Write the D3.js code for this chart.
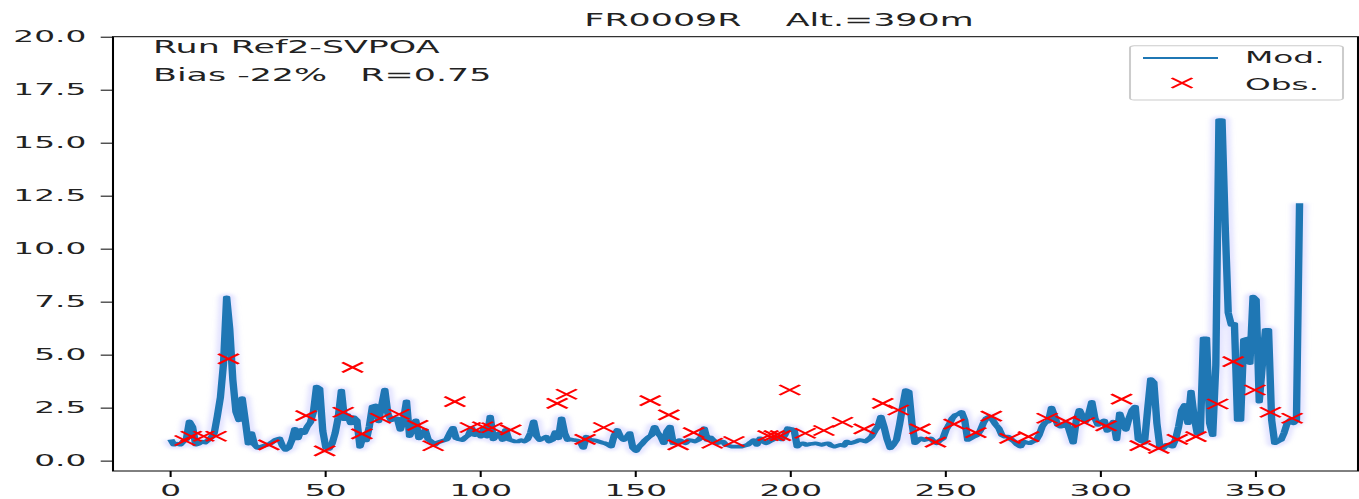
<!DOCTYPE html>
<html>
<head>
<meta charset="utf-8">
<script src="https://cdn.jsdelivr.net/npm/d3@7"></script>
<style>
    body { margin: 0; background: #fff; }
    text { font-family: "DejaVu Sans", sans-serif; }
</style>
</head>
<body>
<svg id="chart" width="1359" height="499"></svg>
<script>
// Data used to draw the chart:
//------------------------------------
var modelVals = [
    1.0, 0.75, 0.8, 0.75, 0.9, 1.0, 1.85, 1.6, 0.75, 0.8,
    0.9, 0.85, 0.97, 1.1, 1.3, 2.1, 3.0, 4.6, 7.7, 6.2,
    3.8, 2.3, 1.9, 2.95, 1.9, 0.8, 1.3, 0.75, 0.6, 0.65,
    0.7, 0.75, 0.8, 0.9, 1.0, 1.05, 0.7, 0.5, 0.6, 0.95,
    1.5, 1.05, 1.45, 1.3, 1.6, 1.8, 2.3, 3.5, 3.4, 1.4,
    0.6, 0.55, 0.8, 1.3, 2.05, 3.3, 1.95, 2.15, 1.75, 2.05,
    1.9, 0.65, 1.15, 0.95, 1.6, 2.55, 2.6, 1.85, 2.6, 3.35,
    2.2, 1.9, 2.0, 2.0, 1.45, 1.9, 2.8, 1.15, 1.5, 1.9,
    1.05, 1.2, 1.45, 1.0, 0.9, 0.74, 0.85, 0.9, 0.95, 1.0,
    1.3, 1.55, 1.05, 1.0, 0.97, 1.1, 1.2, 1.55, 1.2, 1.35,
    1.13, 1.5, 1.13, 2.08, 1.0, 1.2, 1.3, 0.97, 1.45, 1.0,
    0.95, 0.9, 0.9, 0.97, 0.9, 1.0, 1.3, 1.85, 1.15, 0.97,
    1.05, 1.13, 0.9, 0.97, 1.35, 1.05, 2.0, 1.3, 0.97, 1.0,
    0.97, 0.95, 0.9, 0.6, 1.13, 1.0, 0.97, 0.95, 0.9, 0.85,
    0.82, 0.75, 0.66, 1.2, 1.45, 1.13, 0.97, 1.1, 1.3, 0.6,
    0.45, 0.66, 0.8, 0.97, 1.1, 1.2, 1.6, 1.3, 1.13, 0.82,
    1.4, 1.6, 0.82, 0.85, 0.97, 0.9, 0.82, 0.97, 0.95, 0.9,
    0.97, 1.1, 1.53, 0.97, 1.1, 0.95, 0.82, 0.85, 0.9, 0.74,
    0.7, 0.66, 0.66, 0.66, 0.66, 0.7, 0.74, 0.85, 0.97, 0.74,
    1.05, 0.9, 0.82, 0.9, 0.97, 1.13, 1.05, 1.0, 1.2, 1.53,
    1.5, 1.45, 0.66, 0.8, 0.82, 0.74, 0.78, 0.8, 0.82, 0.78,
    0.74, 0.8, 0.82, 0.7, 0.66, 0.7, 0.74, 0.7, 0.9, 0.82,
    0.85, 0.9, 0.97, 0.95, 0.9, 1.0, 1.13, 1.4, 1.6, 2.08,
    1.6, 1.0, 0.58, 0.75, 0.97, 1.7, 2.55, 3.33, 3.26, 1.76,
    0.82, 0.95, 1.05, 0.97, 1.0, 1.05, 0.9, 0.82, 0.95, 1.05,
    1.45, 1.7, 2.0, 2.15, 2.2, 2.3, 1.92, 0.97, 1.05, 1.13,
    1.2, 1.4, 1.76, 2.0, 2.08, 1.92, 1.7, 1.53, 1.2, 1.13,
    1.13, 1.0, 0.9, 0.75, 0.66, 0.9, 0.85, 0.82, 0.9, 0.95,
    1.2, 1.6, 1.8, 1.84, 2.5, 2.1, 1.68, 1.6, 1.65, 1.76,
    1.3, 0.85, 1.9, 2.4, 2.1, 1.84, 2.2, 2.78, 2.0, 1.68,
    1.8, 1.9, 1.4, 1.6, 1.84, 1.0, 2.23, 1.8, 1.45, 2.0,
    2.39, 2.55, 1.0, 0.9, 0.85, 2.39, 3.85, 3.7, 1.76, 0.6,
    0.58, 0.74, 0.7, 0.66, 1.0, 1.6, 2.39, 2.63, 1.76, 3.26,
    2.08, 1.28, 1.3, 5.77, 5.77, 1.76, 1.2, 4.5, 16.07, 16.07,
    11.2, 6.97, 6.4, 6.45, 1.92, 1.92, 5.7, 5.75, 4.6, 7.74,
    7.6, 2.78, 4.5, 6.17, 6.17, 1.92, 0.82, 0.9, 0.97, 1.3,
    1.76, 1.92, 1.76, 1.9, 12.14
];

var obsDays = [5, 7, 11, 15, 19, 32, 44, 50, 56, 59, 62, 68, 74, 80, 85, 92,
    97, 101, 104, 110, 125, 128, 134, 140, 155, 161, 164, 169, 175, 182,
    193, 195, 197, 200, 205, 211, 217, 224, 230, 235, 242, 247, 253, 260,
    265, 271, 277, 283, 289, 295, 302, 307, 313, 319, 325, 331, 338, 343,
    350, 355, 362];
var obsVals = [0.95, 1.15, 1.15, 1.15, 4.8, 0.74, 2.12, 0.46, 2.28, 4.4, 1.26, 2.0, 2.19, 1.66, 0.7, 2.78,
    1.56, 1.6, 1.55, 1.45, 2.7, 3.13, 1.0, 1.56, 2.83, 2.16, 0.74, 1.32, 0.82, 0.9,
    1.18, 1.18, 1.18, 3.33, 1.29, 1.42, 1.81, 1.5, 2.7, 2.39, 1.5, 0.87, 1.72, 1.32,
    2.1, 1.05, 1.13, 2.0, 1.86, 1.8, 1.64, 2.9, 0.71, 0.58, 1.0, 1.13, 2.67, 4.67,
    3.33, 2.28, 2.0];

var yTicks = [0, 2.5, 5, 7.5, 10, 12.5, 15, 17.5, 20];
var xTicks = [0, 50, 100, 150, 200, 250, 300, 350];

var titleText = "FR0009R    Alt.=390m";
var runText = "Run Ref2-SVPOA";
var statText = "Bias -22%   R=0.75";
var legendNames = ["Mod.", "Obs."];

//------------------------------------
// the picture is a horizontally stretched matplotlib figure,
// so everything is drawn in a narrow space and scaled in x
var sx = 2.05;
var svg = d3.select("#chart");

// soft blur for the halo round the model line
svg.append("defs").append("filter")
    .attr("id", "soft")
    .attr("x", "-5%").attr("y", "-5%").attr("width", "110%").attr("height", "110%")
    .append("feGaussianBlur").attr("stdDeviation", "1.2 1.5");

var g = svg.append("g").attr("transform", "scale(" + sx + ",1)");

var plotLeft = 113 / sx, plotRight = 1358 / sx, plotTop = 36.7, plotBottom = 471;

var x = d3.scaleLinear().domain([-18.25, 383.25]).range([plotLeft, plotRight]);
var y = d3.scaleLinear().domain([-0.49, 20]).range([plotBottom, plotTop]);

// axes
var yAxis = g.append("g")
    .attr("transform", "translate(" + plotLeft + ",0)")
    .call(d3.axisLeft(y).tickValues(yTicks).tickFormat(d3.format(".1f"))
        .tickSize(6).tickPadding(7).tickSizeOuter(0));
var xAxis = g.append("g")
    .attr("transform", "translate(0," + plotBottom + ")")
    .call(d3.axisBottom(x).tickValues(xTicks).tickFormat(d3.format("d"))
        .tickSize(6).tickPadding(8).tickSizeOuter(0));
[yAxis, xAxis].forEach(function (a) {
    a.select(".domain").remove();
    a.selectAll("text").style("font-size", "16px").attr("fill", "#222");
    a.selectAll("line").attr("stroke", "#000");
});

// model line with its soft halo
var line = d3.line()
    .x(function (d, i) { return x(i + 0.4); })
    .y(function (d) { return y(d); });

g.append("path")
    .datum(modelVals)
    .attr("d", line)
    .attr("fill", "none")
    .attr("stroke", "#c4c4ff")
    .attr("stroke-opacity", 0.45)
    .attr("stroke-width", 8)
    .attr("stroke-linejoin", "round")
    .attr("filter", "url(#soft)");

g.append("path")
    .datum(modelVals)
    .attr("d", line)
    .attr("fill", "none")
    .attr("stroke", "#1f77b4")
    .attr("stroke-width", 3.6)
    .attr("stroke-linejoin", "round");

// observations as red crosses
var cross = function (cx, cy, r) {
    return "M" + (cx - r) + "," + (cy - r) + "L" + (cx + r) + "," + (cy + r) +
        "M" + (cx - r) + "," + (cy + r) + "L" + (cx + r) + "," + (cy - r);
};
g.selectAll(".obs")
    .data(obsDays)
    .enter().append("path")
    .attr("class", "obs")
    .attr("d", function (d, i) { return cross(x(d), y(obsVals[i]), 5); })
    .attr("stroke", "red")
    .attr("stroke-width", 1.6)
    .attr("fill", "none");

// frame
g.append("rect")
    .attr("x", plotLeft).attr("y", plotTop)
    .attr("width", plotRight - plotLeft).attr("height", plotBottom - plotTop)
    .attr("fill", "none").attr("stroke", "#000").attr("stroke-width", 1);

// title and run text
g.append("text")
    .attr("x", 779 / sx).attr("y", 26)
    .attr("text-anchor", "middle")
    .style("font-size", "17px").style("white-space", "pre")
    .attr("fill", "#222")
    .text(titleText);

g.append("text")
    .attr("x", 153 / sx).attr("y", 53.3)
    .style("font-size", "17px").attr("fill", "#222")
    .text(runText);
g.append("text")
    .attr("x", 153 / sx).attr("y", 81)
    .style("font-size", "17px").style("white-space", "pre").attr("fill", "#222")
    .text(statText);

// legend
var lg = g.append("g");
lg.append("rect")
    .attr("x", 1130 / sx).attr("y", 45.7)
    .attr("width", 213 / sx).attr("height", 54.3)
    .attr("rx", 2).attr("fill", "#fff").attr("fill-opacity", 0.8)
    .attr("stroke", "#ccc").attr("stroke-width", 1);
lg.append("line")
    .attr("x1", 1143 / sx).attr("x2", 1218 / sx)
    .attr("y1", 58).attr("y2", 58)
    .attr("stroke", "#1f77b4").attr("stroke-width", 2);
lg.append("path")
    .attr("d", cross(1182 / sx, 83, 5))
    .attr("stroke", "red").attr("stroke-width", 1.6).attr("fill", "none");
lg.selectAll(".lgtext")
    .data(legendNames)
    .enter().append("text")
    .attr("class", "lgtext")
    .attr("x", 1245 / sx)
    .attr("y", function (d, i) { return 63.5 + i * 26.5; })
    .style("font-size", "16px").attr("fill", "#222")
    .text(function (d) { return d; });
</script>
</body>
</html>
